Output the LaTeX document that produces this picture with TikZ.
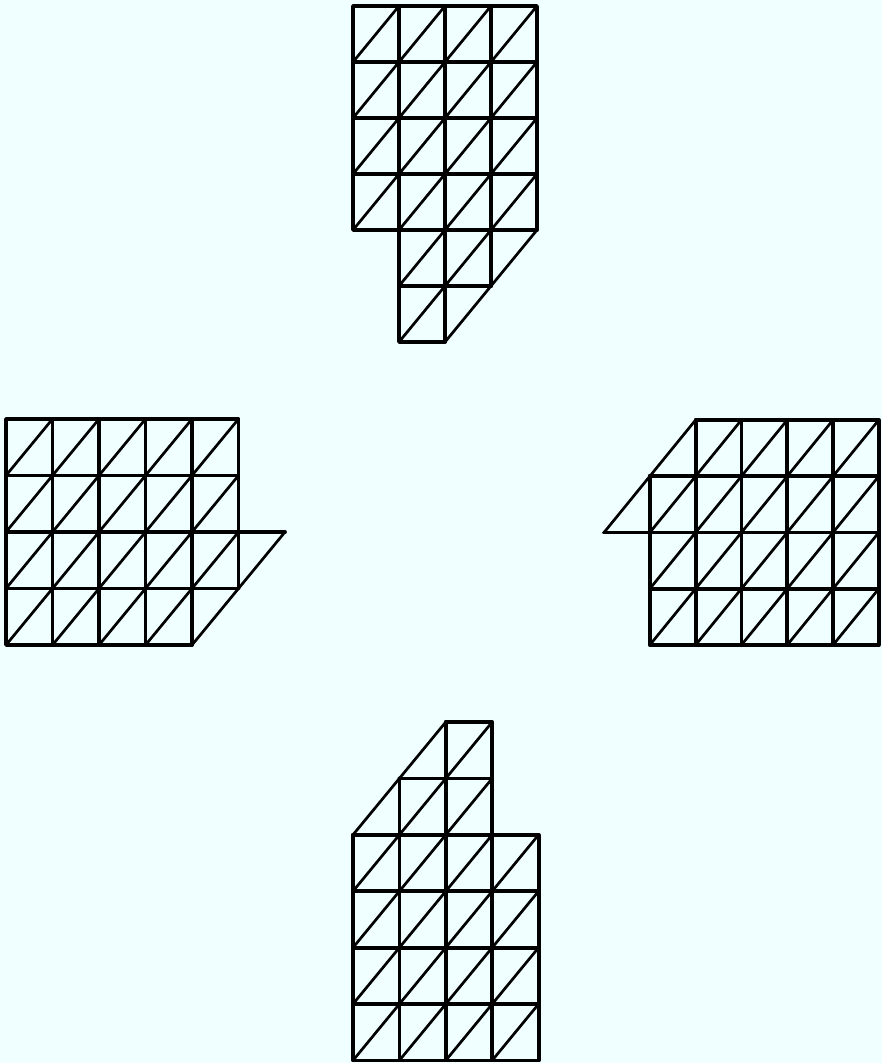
\documentclass[tikz,border=0pt]{standalone}
\definecolor{bgc}{RGB}{240,255,255}
\tikzset{
  gridline/.style={line width=3.8pt, line join=round, line cap=round, black},
  diagline/.style={line width=2.7pt, line cap=round, black}
}
\def\cX{0}\def\cY{0}\def\cW{46}\def\cH{56}
% full cell: rectangle with diagonal from bottom-left to top-right
\newcommand\fullcell[2]{%
  \draw[diagline] ({\cX+#1*\cW},{\cY+(#2+1)*\cH}) -- ++(\cW,-\cH);
  \draw[gridline] ({\cX+#1*\cW},{\cY+#2*\cH}) rectangle ++(\cW,\cH);}
% upper-left half cell
\newcommand\ulhalf[2]{%
  \draw[diagline] ({\cX+#1*\cW},{\cY+(#2+1)*\cH}) -- ++(\cW,-\cH);
  \draw[gridline] ({\cX+(#1+1)*\cW},{\cY+#2*\cH}) -- ++(-\cW,0) -- ++(0,\cH);}
% lower-right half cell
\newcommand\lrhalf[2]{%
  \draw[diagline] ({\cX+#1*\cW},{\cY+(#2+1)*\cH}) -- ++(\cW,-\cH);
  \draw[gridline] ({\cX+#1*\cW},{\cY+(#2+1)*\cH}) -- ++(\cW,0) -- ++(0,-\cH);}
\begin{document}
\begin{tikzpicture}[x=1pt,y=-1pt]
\fill[bgc] (0,0) rectangle (882,1063);
\useasboundingbox (0,0) rectangle (882,1063);
% top shape
\def\cX{353}\def\cY{6}\def\cW{46}\def\cH{56}
\foreach \i in {0,...,3} \foreach \j in {0,...,3} {\fullcell{\i}{\j}}
\fullcell{1}{4}\fullcell{2}{4}\fullcell{1}{5}
\ulhalf{3}{4}\ulhalf{2}{5}
% left shape
\def\cX{6}\def\cY{419}\def\cW{46.5}\def\cH{56.5}
\foreach \i in {0,...,4} \foreach \j in {0,...,2} {\fullcell{\i}{\j}}
\foreach \i in {0,...,3} {\fullcell{\i}{3}}
\ulhalf{5}{2}\ulhalf{4}{3}
% right shape
\def\cX{604}\def\cY{420}\def\cW{45.8}\def\cH{56.25}
\foreach \i in {1,...,5} \foreach \j in {1,...,3} {\fullcell{\i}{\j}}
\foreach \i in {2,...,5} {\fullcell{\i}{0}}
\lrhalf{1}{0}\lrhalf{0}{1}
% bottom shape
\def\cX{353}\def\cY{722}\def\cW{46.4}\def\cH{56.4}
\foreach \i in {0,...,3} \foreach \j in {2,...,5} {\fullcell{\i}{\j}}
\fullcell{1}{1}\fullcell{2}{1}\fullcell{2}{0}
\lrhalf{0}{1}\lrhalf{1}{0}
\end{tikzpicture}
\end{document}
